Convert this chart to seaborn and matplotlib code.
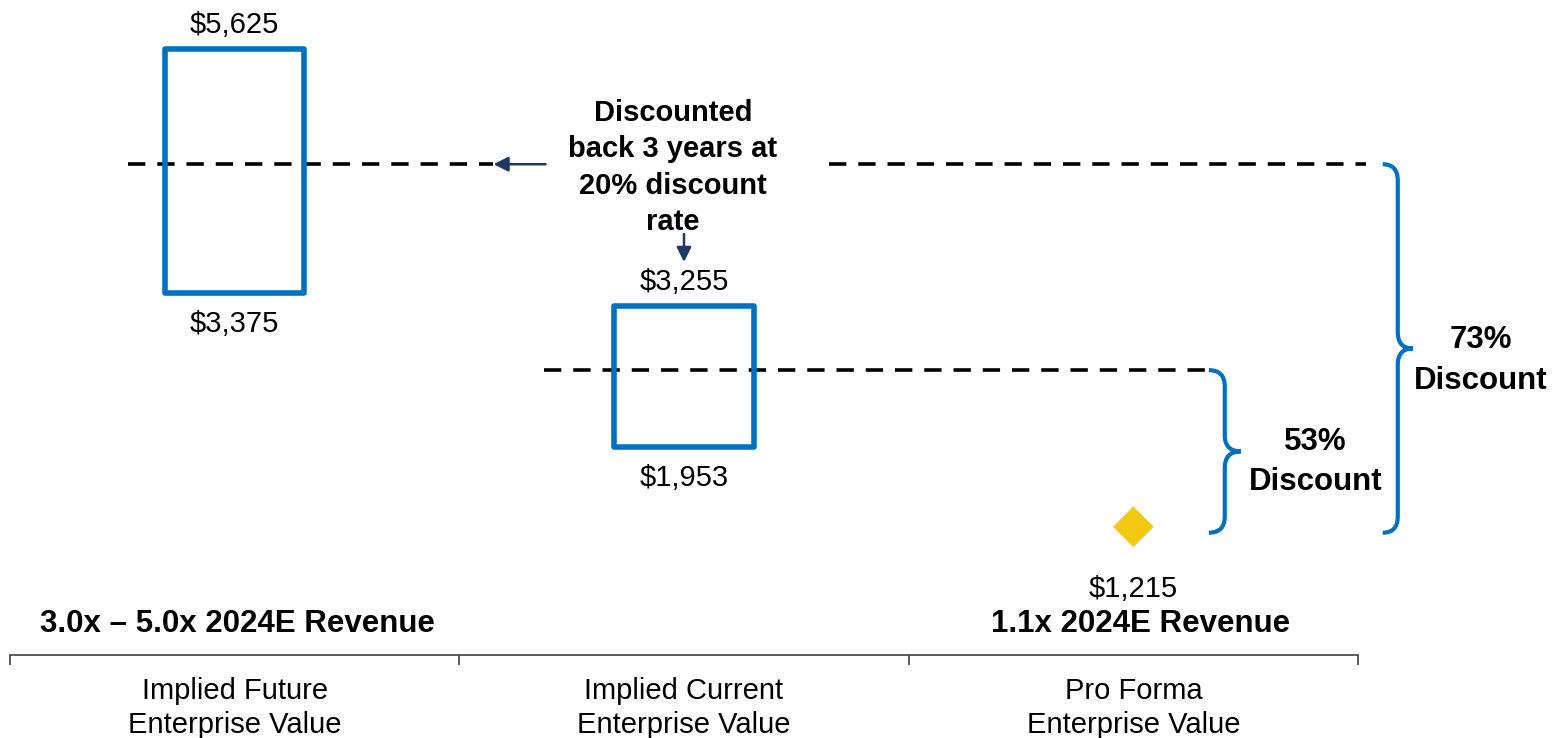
import numpy as np
import matplotlib
matplotlib.use("Agg")
import matplotlib.pyplot as plt
import seaborn as sns
from matplotlib.path import Path
from matplotlib.patches import PathPatch

# ---------------- data ----------------
categories = ["Implied Future\nEnterprise Value",
              "Implied Current\nEnterprise Value",
              "Pro Forma\nEnterprise Value"]
range_low = [3375, 1953]
range_high = [5625, 3255]
low_labels = ["$3,375", "$1,953"]
high_labels = ["$5,625", "$3,255"]
pro_forma_value = [1215]
pro_forma_label = ["$1,215"]
reference_levels = [4560, 2660]          # dashed reference lines
discount_labels = ["73%\nDiscount", "53%\nDiscount"]
multiple_labels = ["3.0x \u2013 5.0x 2024E Revenue", "1.1x 2024E Revenue"]
annotation_text = "Discounted\nback 3 years at\n20% discount\nrate"

BLUE = "#0070C0"
GOLD = "#F2C811"
NAVY = "#1F3864"
AXIS = "#404040"

sns.set_theme(style="white")
plt.rcParams["font.family"] = ["Liberation Sans", "DejaVu Sans"]
plt.rcParams["text.color"] = "black"
plt.rcParams["xtick.color"] = "black"

fig = plt.figure(figsize=(15.52, 7.38), dpi=100)
ax = fig.add_axes([10 / 1552, 83 / 738, 1348 / 1552, 655 / 738])

# ---------------- range boxes ----------------
lo = np.array(range_low)
hi = np.array(range_high)
bars = ax.bar([0, 1], hi - lo, bottom=lo, width=0.31, fill=False,
              edgecolor=BLUE, linewidth=4.0, zorder=3)
for b in bars:
    b.set_joinstyle("round")

for i in range(2):
    ax.annotate(high_labels[i], (i, hi[i]), xytext=(0, 11.5), textcoords="offset points",
                ha="center", va="baseline", fontsize=21, color="black")
    ax.annotate(low_labels[i], (i, lo[i]), xytext=(0, -28), textcoords="offset points",
                ha="center", va="baseline", fontsize=21, color="black")

# ---------------- pro forma diamond ----------------
sns.scatterplot(x=[2], y=pro_forma_value, marker="D", s=430, color=GOLD,
                edgecolor="none", ax=ax, zorder=4)
ax.text(2.0, 567, pro_forma_label[0], ha="center", va="baseline", fontsize=21,
        color="black")

# ---------------- dashed reference lines ----------------
dash_kw = dict(color="black", linewidth=2.6, linestyle=(0, (4.8, 3.3)), zorder=2,
               clip_on=False)
ax.plot([-0.238, 0.576], [reference_levels[0]] * 2, **dash_kw)
ax.plot([1.322, 2.517], [reference_levels[0]] * 2, **dash_kw)
ax.plot([0.688, 2.161], [reference_levels[1]] * 2, **dash_kw)

# ---------------- arrows & annotation ----------------
arrow_kw = dict(arrowstyle="-|>", color=NAVY, lw=1.8, mutation_scale=22,
                shrinkA=0, shrinkB=0)
ax.annotate("", xy=(0.576, reference_levels[0]), xytext=(0.692, reference_levels[0]),
            arrowprops=arrow_kw)
ax.annotate("", xy=(1.0, 3658), xytext=(1.0, 3916), arrowprops=arrow_kw)
ax.text(0.975, 4530, annotation_text, ha="center", va="center",
        fontsize=21, fontweight="bold", linespacing=1.37, color="black")


# ---------------- braces ----------------
def brace(x0, w, ylo, yhi, r):
    x1 = x0 + w / 2
    x2 = x0 + w
    ym = (ylo + yhi) / 2
    verts = [(x0, yhi), (x1, yhi), (x1, yhi - r),
             (x1, ym + r),
             (x1, ym), (x2, ym),
             (x1, ym), (x1, ym - r),
             (x1, ylo + r),
             (x1, ylo), (x0, ylo)]
    codes = [Path.MOVETO, Path.CURVE3, Path.CURVE3,
             Path.LINETO,
             Path.CURVE3, Path.CURVE3,
             Path.CURVE3, Path.CURVE3,
             Path.LINETO,
             Path.CURVE3, Path.CURVE3]
    ax.add_patch(PathPatch(Path(verts, codes), fill=False, edgecolor=BLUE,
                           linewidth=3.0, clip_on=False, capstyle="butt"))


brace(2.555, 0.067, 1160, reference_levels[0], 150)
brace(2.168, 0.071, 1160, reference_levels[1], 150)
ax.text(2.773, 2751, discount_labels[0], ha="center", va="center", fontsize=22.5,
        fontweight="bold", linespacing=1.46, clip_on=False, color="black")
ax.text(2.406, 1812, discount_labels[1], ha="center", va="center", fontsize=22.5,
        fontweight="bold", linespacing=1.46, color="black")

# ---------------- multiple labels ----------------
ax.text(0.007, 244, multiple_labels[0], ha="center", va="baseline", fontsize=22.5,
        fontweight="bold", color="black")
ax.text(2.016, 244, multiple_labels[1], ha="center", va="baseline", fontsize=22.5,
        fontweight="bold", color="black")

# ---------------- axes styling ----------------
ax.set_xlim(-0.5, 2.5)
ax.set_ylim(32, 6075)
ax.set_xlabel("")
ax.set_ylabel("")
ax.set_yticks([])
for s in ["top", "left", "right"]:
    ax.spines[s].set_visible(False)
ax.spines["bottom"].set_color(AXIS)
ax.spines["bottom"].set_linewidth(1.2)
ax.set_xticks([-0.5, 0.5, 1.5, 2.5], ["", "", "", ""])
ax.set_xticks([0, 1, 2], categories, minor=True)
ax.tick_params(axis="x", which="major", bottom=True, direction="out", length=7,
               width=1.2, color=AXIS)
ax.tick_params(axis="x", which="minor", bottom=True, length=0, pad=15.5,
               labelsize=21, labelcolor="black")
for lbl in ax.get_xticklabels(minor=True):
    lbl.set_linespacing(1.28)
ax.patch.set_alpha(0)

fig.savefig("out.png", dpi=100)
